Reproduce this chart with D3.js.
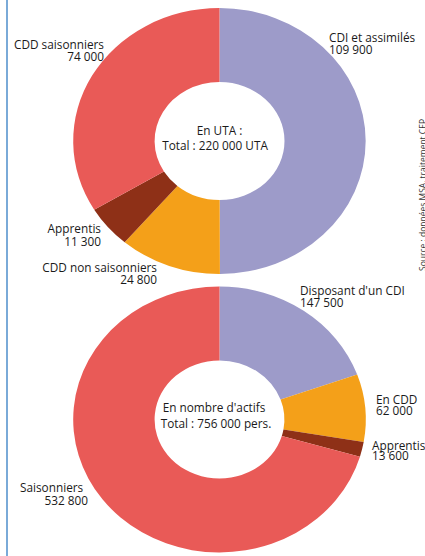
<!DOCTYPE html>
<html>
<head>
<meta charset="utf-8">
<script src="https://cdn.jsdelivr.net/npm/d3@7"></script>
<style>
  body { margin: 0; background: #fff; }
  svg { display: block; font-family: "Open Sans", sans-serif; }
</style>
</head>
<body>
<div id="chart"></div>
<script>
// UTA donut
var utaLabels = ["CDI et assimilés", "CDD non saisonniers", "Apprentis", "CDD saisonniers"];
var utaValues = [109900, 24800, 11300, 74000];
// actifs donut
var actLabels = ["Disposant d'un CDI", "En CDD", "Apprentis", "Saisonniers"];
var actValues = [147500, 62000, 13600, 532800];

var colors = ["#9d9bc9", "#f4a019", "#8e3017", "#e95a57"];

var width = 425, height = 556;
var fs = 11.8;

var svg = d3.select("#chart")
  .append("svg")
  .attr("width", width)
  .attr("height", height);

// blue rule on the left
svg.append("line")
  .attr("x1", 7).attr("x2", 7)
  .attr("y1", 0).attr("y2", height)
  .attr("stroke", "#7aaad8")
  .attr("stroke-width", 2);

var pie = d3.pie().sort(null).value(function(d) { return d; });
var arc = d3.arc().innerRadius(59).outerRadius(133);

function fmt(v) {
  return d3.format(",")(v).replace(/,/g, " ");
}

function donut(cy, values) {
  var g = svg.append("g")
    .attr("transform", "translate(219.5," + cy + ") scale(1.1,1)");
  g.selectAll("path")
    .data(pie(values))
    .enter()
    .append("path")
    .attr("d", arc)
    .attr("fill", function(d, i) { return colors[i]; });
}

donut(141, utaValues);
donut(419.5, actValues);

function label(x, y, anchor, name, value, gap) {
  var t = svg.append("text")
    .attr("x", x).attr("y", y)
    .attr("text-anchor", anchor)
    .attr("font-size", fs)
    .attr("fill", "#1a1a1a");
  t.append("tspan").attr("x", x).text(name);
  t.append("tspan").attr("x", x).attr("dy", gap || 12).text(value);
}

// top labels
label(104, 49, "end", utaLabels[3], fmt(utaValues[3]));
label(329, 42, "start", utaLabels[0], fmt(utaValues[0]));
label(101, 233, "end", utaLabels[2], fmt(utaValues[2]), 13);
label(157, 272, "end", utaLabels[1], fmt(utaValues[1]));

// bottom labels
label(300, 295, "start", actLabels[0], fmt(actValues[0]));
label(376, 404, "start", actLabels[1], fmt(actValues[1]), 11);
label(372, 450, "start", actLabels[2], fmt(actValues[2]), 10);
svg.append("text").attr("x", 20).attr("y", 492).attr("font-size", fs)
  .attr("fill", "#1a1a1a").text(actLabels[3]);
svg.append("text").attr("x", 88).attr("y", 505).attr("font-size", fs)
  .attr("text-anchor", "end").attr("fill", "#1a1a1a").text(fmt(actValues[3]));

// centre texts
var centre = [
  ["En UTA :", 219.5, 135],
  ["Total : 220 000 UTA", 215, 150],
  ["En nombre d'actifs", 214, 412],
  ["Total : 756 000 pers.", 216, 428]
];
centre.forEach(function(c) {
  svg.append("text")
    .attr("x", c[1]).attr("y", c[2])
    .attr("text-anchor", "middle")
    .attr("font-size", fs)
    .attr("fill", "#1a1a1a")
    .text(c[0]);
});

// source, rotated
svg.append("text")
  .attr("transform", "translate(426,271) rotate(-90)")
  .attr("font-size", 8.5)
  .attr("fill", "#333")
  .text("Source : données MSA, traitement CEP");
</script>
</body>
</html>
